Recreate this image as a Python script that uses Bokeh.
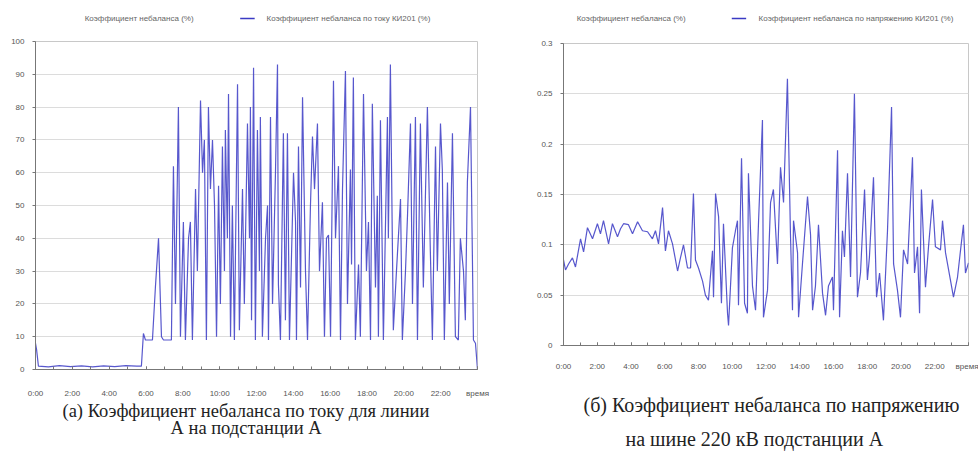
from bokeh.plotting import figure
from bokeh.layouts import row, column
from bokeh.models import (Range1d, FixedTicker, Legend, LegendItem, Title,
                          NumeralTickFormatter)
from bokeh.embed import file_html
from bokeh.resources import INLINE

# ---------------- data ----------------
hours_a = [0.00, 0.06, 0.16, 0.7, 1.3, 1.9, 2.5, 3.1, 3.7, 4.3, 4.9, 5.5, 5.75, 5.86, 5.97,
           6.35, 6.51, 6.68, 6.84, 6.95, 7.38, 7.49, 7.60, 7.76, 7.87, 8.03, 8.14, 8.31, 8.41,
           8.52, 8.69, 8.79, 8.96, 9.07, 9.17, 9.28, 9.39, 9.50, 9.61, 9.72, 9.83, 9.94, 10.04,
           10.15, 10.26, 10.31, 10.42, 10.48, 10.59, 10.69, 10.80, 10.97, 11.07, 11.24, 11.34,
           11.51, 11.62, 11.67, 11.73, 11.84, 11.94, 12.05, 12.16, 12.21, 12.32, 12.49, 12.60,
           12.65, 12.76, 12.87, 13.03, 13.14, 13.19, 13.30, 13.46, 13.57, 13.68, 13.79, 14.01,
           14.12, 14.17, 14.28, 14.39, 14.50, 14.66, 14.77, 14.93, 15.04, 15.15, 15.31, 15.42,
           15.58, 15.69, 15.80, 15.91, 16.02, 16.18, 16.29, 16.45, 16.56, 16.67, 16.83, 16.94,
           17.10, 17.16, 17.26, 17.37, 17.54, 17.64, 17.81, 17.97, 18.08, 18.19, 18.29, 18.46,
           18.56, 18.62, 18.73, 18.89, 19.11, 19.16, 19.27, 19.43, 19.60, 19.82, 19.92, 20.09,
           20.20, 20.36, 20.47, 20.63, 20.74, 20.90, 21.06, 21.28, 21.44, 21.55, 21.72, 21.82,
           21.99, 22.09, 22.20, 22.37, 22.47, 22.64, 22.80, 22.96, 23.07, 23.24, 23.34, 23.45,
           23.62, 23.78, 23.89, 24.00]
current_a = [8, 6, 1, 0.8, 1.2, 0.9, 1.1, 0.8, 1.1, 0.9, 1.2, 1.0, 1.0, 11, 9,
             9, 25, 40, 10, 9, 9, 62, 20, 80, 10, 45, 9, 40, 45,
             9, 55, 30, 82, 60, 70, 9, 80, 55, 70, 50, 10, 56, 20,
             68, 30, 73, 40, 84, 10, 50, 9, 87, 12, 55, 20,
             75, 40, 80, 15, 92, 9, 73, 30, 77, 10, 40, 50,
             9, 77, 20, 60, 93, 26, 9, 72, 15, 72, 9, 60,
             45, 9, 68, 25, 83, 30, 9, 50, 71, 55, 75, 30,
             51, 10, 40, 41, 10, 88, 40, 62, 9, 55, 91, 20,
             61, 32, 89, 9, 32, 10, 84, 30, 45, 9, 81, 25,
             53, 10, 76, 9, 77, 40, 93, 12, 30, 52, 9, 30,
             47, 75, 20, 77, 9, 75, 25, 80, 36, 9, 68, 30,
             75, 61, 9, 57, 20, 72, 10, 9, 40, 30, 15, 57,
             80, 9, 8, 0]

hours_b = [0.00, 0.12, 0.30, 0.53, 0.71, 1.01, 1.19, 1.42, 1.72, 2.01, 2.19, 2.37, 2.67, 2.90,
           3.20, 3.38, 3.56, 3.85, 4.09, 4.39, 4.68, 4.98, 5.27, 5.45, 5.63, 5.87, 6.04, 6.22,
           6.46, 6.76, 6.93, 7.11, 7.35, 7.53, 7.70, 7.82, 8.00, 8.24, 8.41, 8.59, 8.83, 8.89,
           9.01, 9.19, 9.36, 9.48, 9.72, 9.78, 10.01, 10.19, 10.31, 10.37, 10.55, 10.73, 10.90,
           10.96, 11.20, 11.38, 11.56, 11.79, 11.85, 12.09, 12.27, 12.44, 12.68, 12.86, 13.04,
           13.27, 13.45, 13.57, 13.63, 13.87, 13.93, 14.16, 14.46, 14.64, 14.76, 14.93, 15.11,
           15.35, 15.53, 15.70, 15.94, 16.00, 16.24, 16.36, 16.53, 16.65, 16.83, 17.01, 17.24,
           17.42, 17.60, 17.84, 18.01, 18.13, 18.37, 18.55, 18.73, 18.96, 19.20, 19.44, 19.56,
           19.79, 19.97, 20.15, 20.39, 20.68, 20.80, 20.98, 21.10, 21.21, 21.45, 21.63, 21.87,
           22.04, 22.34, 22.46, 22.64, 22.93, 23.11, 23.35, 23.53, 23.70, 23.82, 24.00]
voltage_b = [0.085, 0.075, 0.081, 0.087, 0.078, 0.106, 0.093, 0.117, 0.106, 0.121, 0.111, 0.124,
             0.101, 0.121, 0.108, 0.116, 0.121, 0.120, 0.111, 0.123, 0.114, 0.113, 0.106, 0.114,
             0.101, 0.137, 0.094, 0.114, 0.101, 0.074, 0.087, 0.100, 0.077, 0.077, 0.151, 0.085,
             0.077, 0.064, 0.050, 0.045, 0.094, 0.048, 0.151, 0.128, 0.042, 0.121, 0.032, 0.020,
             0.097, 0.114, 0.124, 0.040, 0.186, 0.042, 0.032, 0.171, 0.059, 0.035, 0.124, 0.224,
             0.028, 0.055, 0.142, 0.155, 0.081, 0.177, 0.142, 0.265, 0.110, 0.035, 0.124, 0.092,
             0.028, 0.081, 0.148, 0.110, 0.035, 0.059, 0.120, 0.052, 0.030, 0.059, 0.068, 0.035,
             0.194, 0.028, 0.114, 0.088, 0.171, 0.068, 0.250, 0.048, 0.072, 0.155, 0.065, 0.088,
             0.167, 0.048, 0.072, 0.025, 0.114, 0.237, 0.081, 0.055, 0.028, 0.095, 0.081, 0.187,
             0.072, 0.098, 0.032, 0.155, 0.058, 0.098, 0.145, 0.098, 0.095, 0.124, 0.092, 0.065,
             0.048, 0.068, 0.095, 0.120, 0.072, 0.082]

tick_hours = [0, 2, 4, 6, 8, 10, 12, 14, 16, 18, 20, 22, 24]
tick_labels = ["0:00", "2:00", "4:00", "6:00", "8:00", "10:00", "12:00", "14:00",
               "16:00", "18:00", "20:00", "22:00", "время"]
minor_hours = list(range(0, 25))

legend_a = ["Коэффициент небаланса (%)", "Коэффициент небаланса по току КИ201 (%)"]
legend_b = ["Коэффициент небаланса (%)", "Коэффициент небаланса по напряжению КИ201 (%)"]
caption_a = ["(а) Коэффициент небаланса по току для линии", "А на подстанции А"]
caption_b = ["(б) Коэффициент небаланса по напряжению", "на шине 220 кВ подстанции А"]

y_ticks_a = [0, 10, 20, 30, 40, 50, 60, 70, 80, 90, 100]
y_ticks_b = [0, 0.05, 0.1, 0.15, 0.2, 0.25, 0.3]

LINE = "#3a3ac4"
AXIS_FONT = "Liberation Sans"
SERIF = "Liberation Serif"
LEGEND_H = 36


def make_legend(labels, xs, ys, width, bl, br):
    # legend strip: the series is plotted off-view so only its legend sample shows
    p = figure(width=width, height=LEGEND_H, output_backend="svg", toolbar_location=None,
               x_axis_type=None, y_axis_type=None,
               x_range=Range1d(0, 24), y_range=Range1d(-2, -1),
               min_border_left=bl, min_border_right=br, min_border_top=0, min_border_bottom=0)
    p.frame_align = False
    p.outline_line_color = None
    p.xgrid.visible = False
    p.ygrid.visible = False
    blank = p.line(xs, ys, line_alpha=0)
    series = p.line(xs, ys, line_color=LINE, line_width=1.3)
    legend = Legend(items=[LegendItem(label=labels[0], renderers=[blank]),
                           LegendItem(label=labels[1], renderers=[series])],
                    orientation="horizontal", location="center",
                    border_line_alpha=0, background_fill_alpha=0,
                    label_text_font=AXIS_FONT, label_text_font_size="8px",
                    label_text_color="#666666", glyph_width=15, glyph_height=10,
                    spacing=46, padding=0, margin=0, label_standoff=12,
                    label_height=10)
    p.add_layout(legend)
    return p


def make_chart(xs, ys, ymax, yticks, caption, width, height,
               bl, br, bt, bb, cap_size, cap_offsets, cap_standoffs, cap_lh, x_standoff):
    p = figure(width=width, height=height, output_backend="svg", toolbar_location=None,
               x_range=Range1d(0, 24), y_range=Range1d(0, ymax),
               min_border_left=bl, min_border_right=br, min_border_top=bt,
               min_border_bottom=bb)
    p.frame_align = False
    p.outline_line_color = "#c8c8c8"
    p.background_fill_color = "white"
    p.border_fill_color = "white"
    p.xgrid.visible = False
    p.ygrid.grid_line_color = "#dcdcdc"
    p.ygrid.ticker = FixedTicker(ticks=yticks)

    p.xaxis.ticker = FixedTicker(ticks=tick_hours, minor_ticks=minor_hours)
    p.xaxis.major_label_overrides = {h: l for h, l in zip(tick_hours, tick_labels)}
    p.yaxis.ticker = FixedTicker(ticks=yticks)
    for ax in (p.xaxis, p.yaxis):
        ax.axis_line_color = "#777777"
        ax.major_tick_line_color = "#777777"
        ax.minor_tick_line_color = "#777777"
        ax.major_label_text_font = AXIS_FONT
        ax.major_label_text_font_size = "8px"
        ax.major_label_text_color = "#555555"
    p.xaxis.major_tick_in = 3
    p.xaxis.major_tick_out = 0
    p.xaxis.minor_tick_in = 3
    p.xaxis.minor_tick_out = 0
    p.xaxis.major_label_standoff = x_standoff
    p.yaxis.major_tick_in = 0
    p.yaxis.major_tick_out = 3
    p.yaxis.minor_tick_line_color = None
    p.yaxis.major_label_standoff = 8

    p.line(xs, ys, line_color=LINE, line_width=1.2, line_alpha=0.85)

    for line, off, so, lh in zip(caption, cap_offsets, cap_standoffs, cap_lh):
        p.add_layout(Title(text=line, align="left", text_font=SERIF,
                           text_font_size=cap_size, text_font_style="normal",
                           text_color="#222222", offset=off, standoff=so,
                           text_line_height=lh), "below")
    return p


la = make_legend(legend_a, hours_a, current_a, 490, 23, 25)
lb = make_legend(legend_b, hours_b, voltage_b, 488, 59, 24)
pa = make_chart(hours_a, current_a, 100, y_ticks_a, caption_a,
                490, 459 - LEGEND_H, 35, 13, 41 - LEGEND_H, 90, "18.5px",
                [27, 135], [-3, -8], [1.0, 0.9], 19)
pb = make_chart(hours_b, voltage_b, 0.3, y_ticks_b, caption_b,
                488, 459 - LEGEND_H, 73, 10, 43 - LEGEND_H, 114, "20px",
                [20, 62], [37, -30], [1.0, 0.8], 16)
pb.yaxis.formatter = NumeralTickFormatter(format="0.[00]")

layout = row(column(la, pa, spacing=0), column(lb, pb, spacing=0), spacing=0)
open("out.html", "w").write(file_html(layout, INLINE))
